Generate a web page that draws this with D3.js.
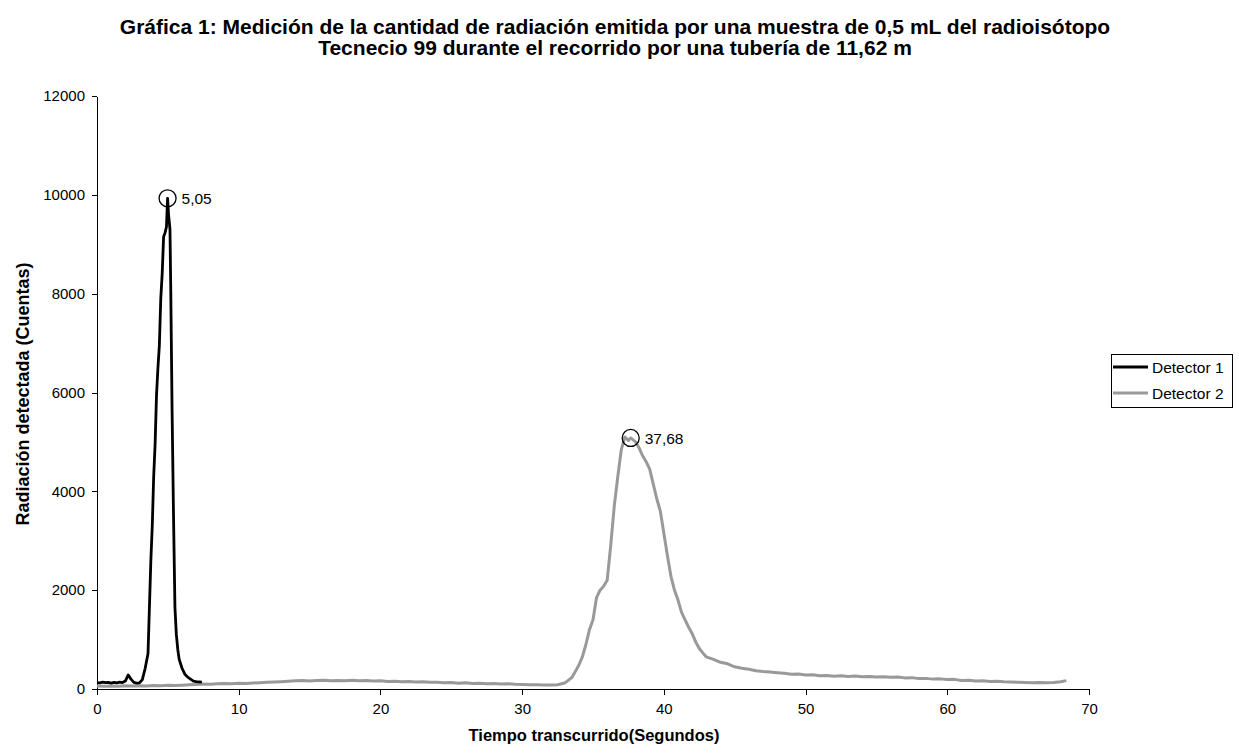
<!DOCTYPE html>
<html lang="es">
<head>
    <meta charset="UTF-8">
    <title>Gráfica 1</title>
    <script src="https://d3js.org/d3.v7.min.js"></script>
    <style>
        body {
            margin: 0;
            padding: 0;
            background-color: #ffffff;
            font-family: 'Liberation Sans', Arial, sans-serif;
        }

        .axis path,
        .axis line {
            stroke: #000000;
            shape-rendering: crispEdges;
        }

        .axis text {
            font-family: 'Liberation Sans', Arial, sans-serif;
            font-size: 15px;
            fill: #000000;
        }
    </style>
</head>
<body>
    <div id="chart"></div>

    <script>
        const titleLines = [
            'Gráfica 1: Medición de la cantidad de radiación emitida por una muestra de 0,5 mL del radioisótopo',
            'Tecnecio 99 durante el recorrido por una tubería de 11,62 m'
        ];
        const xLabel = 'Tiempo transcurrido(Segundos)';
        const yLabel = 'Radiación detectada (Cuentas)';

        const xTicks = [0, 10, 20, 30, 40, 50, 60, 70];
        const yTicks = [0, 2000, 4000, 6000, 8000, 10000, 12000];

        // [tiempo (s), cuentas]
        const detector1 = [
            [0.0, 130], [0.2, 125], [0.4, 140], [0.6, 128], [0.8, 132], [1.0, 120],
            [1.2, 135], [1.4, 126], [1.6, 138], [1.8, 130], [2.0, 160], [2.2, 285],
            [2.4, 200], [2.6, 135], [2.8, 120], [3.0, 125], [3.2, 190], [3.4, 420],
            [3.6, 720], [3.8, 2600], [3.9, 3300], [4.0, 4300], [4.1, 4950], [4.2, 5950],
            [4.3, 6500], [4.4, 6950], [4.5, 7900], [4.6, 8400], [4.7, 9150], [4.8, 9230],
            [4.9, 9350], [4.98, 9930], [5.05, 9600], [5.15, 9300], [5.2, 8200], [5.3, 5600],
            [5.4, 3500], [5.5, 1650], [5.6, 1100], [5.7, 800], [5.8, 600], [6.0, 420],
            [6.2, 300], [6.4, 240], [6.6, 200], [6.8, 160], [7.0, 150], [7.2, 145], [7.4, 140]
        ];

        const detector2 = [
            [0.0, 60], [0.5, 55], [1.0, 62], [1.5, 58], [2.0, 65], [2.5, 60], [3.0, 68],
            [3.5, 63], [4.0, 70], [4.5, 66], [5.0, 74], [5.5, 70], [6.0, 78], [6.5, 85],
            [7.0, 92], [7.5, 100], [8.0, 96], [8.5, 104], [9.0, 110], [9.5, 106],
            [10.0, 115], [10.5, 112], [11.0, 122], [11.5, 128], [12.0, 135], [12.5, 140],
            [13.0, 148], [13.5, 155], [14.0, 165], [14.5, 172], [15.0, 160], [15.5, 170],
            [16.0, 175], [16.5, 165], [17.0, 172], [17.5, 168], [18.0, 176], [18.5, 166],
            [19.0, 170], [19.5, 162], [20.0, 165], [20.5, 150], [21.0, 158], [21.5, 148],
            [22.0, 152], [22.5, 140], [23.0, 145], [23.5, 135], [24.0, 138], [24.5, 128],
            [25.0, 130], [25.5, 118], [26.0, 125], [26.5, 112], [27.0, 118], [27.5, 108],
            [28.0, 112], [28.5, 100], [29.0, 105], [29.5, 95], [30.0, 92], [30.5, 88],
            [31.0, 84], [31.5, 80], [32.0, 82], [32.5, 85], [33.0, 120], [33.5, 230],
            [34.0, 480], [34.25, 650], [34.5, 900], [34.75, 1200], [35.0, 1400], [35.25, 1850],
            [35.5, 2000], [35.75, 2080], [36.0, 2200], [36.25, 2900], [36.5, 3700], [36.75, 4300],
            [37.0, 4850], [37.25, 5100], [37.5, 5030], [37.66, 5080], [38.0, 5000], [38.25, 4880],
            [38.5, 4720], [38.75, 4600], [39.0, 4450], [39.25, 4150], [39.5, 3850], [39.75, 3600],
            [40.0, 3150], [40.25, 2700], [40.5, 2280], [40.75, 2000], [41.0, 1800], [41.25, 1550],
            [41.5, 1400], [41.75, 1250], [42.0, 1120], [42.25, 950], [42.5, 820], [42.75, 730],
            [43.0, 650], [43.5, 600], [44.0, 540], [44.5, 510], [45.0, 450], [45.5, 420],
            [46.0, 400], [46.5, 370], [47.0, 355], [47.5, 345], [48.0, 330], [48.5, 318],
            [49.0, 300], [49.5, 305], [50.0, 285], [50.5, 290], [51.0, 270], [51.5, 275],
            [52.0, 260], [52.5, 268], [53.0, 255], [53.5, 262], [54.0, 248], [54.5, 255],
            [55.0, 242], [55.5, 250], [56.0, 238], [56.5, 245], [57.0, 225], [57.5, 230],
            [58.0, 210], [58.5, 215], [59.0, 200], [59.5, 205], [60.0, 190], [60.5, 195],
            [61.0, 170], [61.5, 178], [62.0, 160], [62.5, 165], [63.0, 150], [63.5, 155],
            [64.0, 145], [64.5, 140], [65.0, 135], [65.5, 130], [66.0, 125], [66.5, 130],
            [67.0, 128], [67.5, 132], [68.0, 145], [68.4, 170]
        ];

        const peaks = [
            { t: 4.98, c: 9930, label: '5,05' },
            { t: 37.66, c: 5080, label: '37,68' }
        ];

        const seriesNames = ['Detector 1', 'Detector 2'];
        const seriesColors = ['#000000', '#999999'];

        const width = 1239;
        const height = 755;
        const margin = { top: 96, right: 150, bottom: 66, left: 97 };

        const svg = d3.select('#chart')
            .append('svg')
            .attr('width', width)
            .attr('height', height);

        const x = d3.scaleLinear()
            .domain([0, 70])
            .range([margin.left, width - margin.right]);

        const y = d3.scaleLinear()
            .domain([0, 12000])
            .range([height - margin.bottom, margin.top]);

        // title
        svg.append('g')
            .selectAll('text')
            .data(titleLines)
            .join('text')
            .attr('x', 615)
            .attr('y', (d, i) => 34 + i * 21)
            .attr('text-anchor', 'middle')
            .attr('font-size', '21px')
            .attr('font-weight', 'bold')
            .text(d => d);

        svg.append('g')
            .attr('class', 'axis')
            .attr('transform', `translate(0,${height - margin.bottom})`)
            .call(d3.axisBottom(x).tickValues(xTicks).tickSize(6).tickSizeOuter(0).tickPadding(8));

        svg.append('g')
            .attr('class', 'axis')
            .attr('transform', `translate(${margin.left},0)`)
            .call(d3.axisLeft(y).tickValues(yTicks).tickFormat(d3.format('d'))
                .tickSize(5).tickSizeOuter(0).tickPadding(7));

        svg.append('text')
            .attr('x', 594)
            .attr('y', 741)
            .attr('text-anchor', 'middle')
            .attr('font-size', '16.5px')
            .attr('font-weight', 'bold')
            .text(xLabel);

        svg.append('text')
            .attr('transform', `translate(29,394) rotate(-90)`)
            .attr('text-anchor', 'middle')
            .attr('font-size', '18px')
            .attr('font-weight', 'bold')
            .text(yLabel);

        const line = d3.line()
            .x(d => x(d[0]))
            .y(d => y(d[1]));

        // detector 2 drawn first so detector 1 sits on top
        svg.append('path')
            .datum(detector2)
            .attr('fill', 'none')
            .attr('stroke', seriesColors[1])
            .attr('stroke-width', 3)
            .attr('stroke-linejoin', 'round')
            .attr('d', line);

        svg.append('path')
            .datum(detector1)
            .attr('fill', 'none')
            .attr('stroke', seriesColors[0])
            .attr('stroke-width', 2.8)
            .attr('stroke-linejoin', 'round')
            .attr('d', line);

        // peak markers
        const peak = svg.append('g')
            .selectAll('g')
            .data(peaks)
            .join('g')
            .attr('transform', d => `translate(${x(d.t)},${y(d.c)})`);

        peak.append('circle')
            .attr('r', 8.5)
            .attr('fill', 'none')
            .attr('stroke', '#000')
            .attr('stroke-width', 1.3);

        peak.append('text')
            .attr('x', 14)
            .attr('y', 6)
            .attr('font-size', '15.5px')
            .text(d => d.label);

        // legend
        const legend = svg.append('g')
            .attr('transform', 'translate(1111,354)');

        legend.append('rect')
            .attr('width', 121)
            .attr('height', 53)
            .attr('fill', '#fff')
            .attr('stroke', '#000')
            .attr('stroke-width', 1)
            .attr('shape-rendering', 'crispEdges');

        const item = legend.selectAll('g')
            .data(seriesNames)
            .join('g')
            .attr('transform', (d, i) => `translate(0,${13 + i * 26})`);

        item.append('line')
            .attr('x1', 2)
            .attr('x2', 37)
            .attr('stroke', (d, i) => seriesColors[i])
            .attr('stroke-width', 3);

        item.append('text')
            .attr('x', 41)
            .attr('y', 5.5)
            .attr('font-size', '15.5px')
            .text(d => d);
    </script>
</body>
</html>
